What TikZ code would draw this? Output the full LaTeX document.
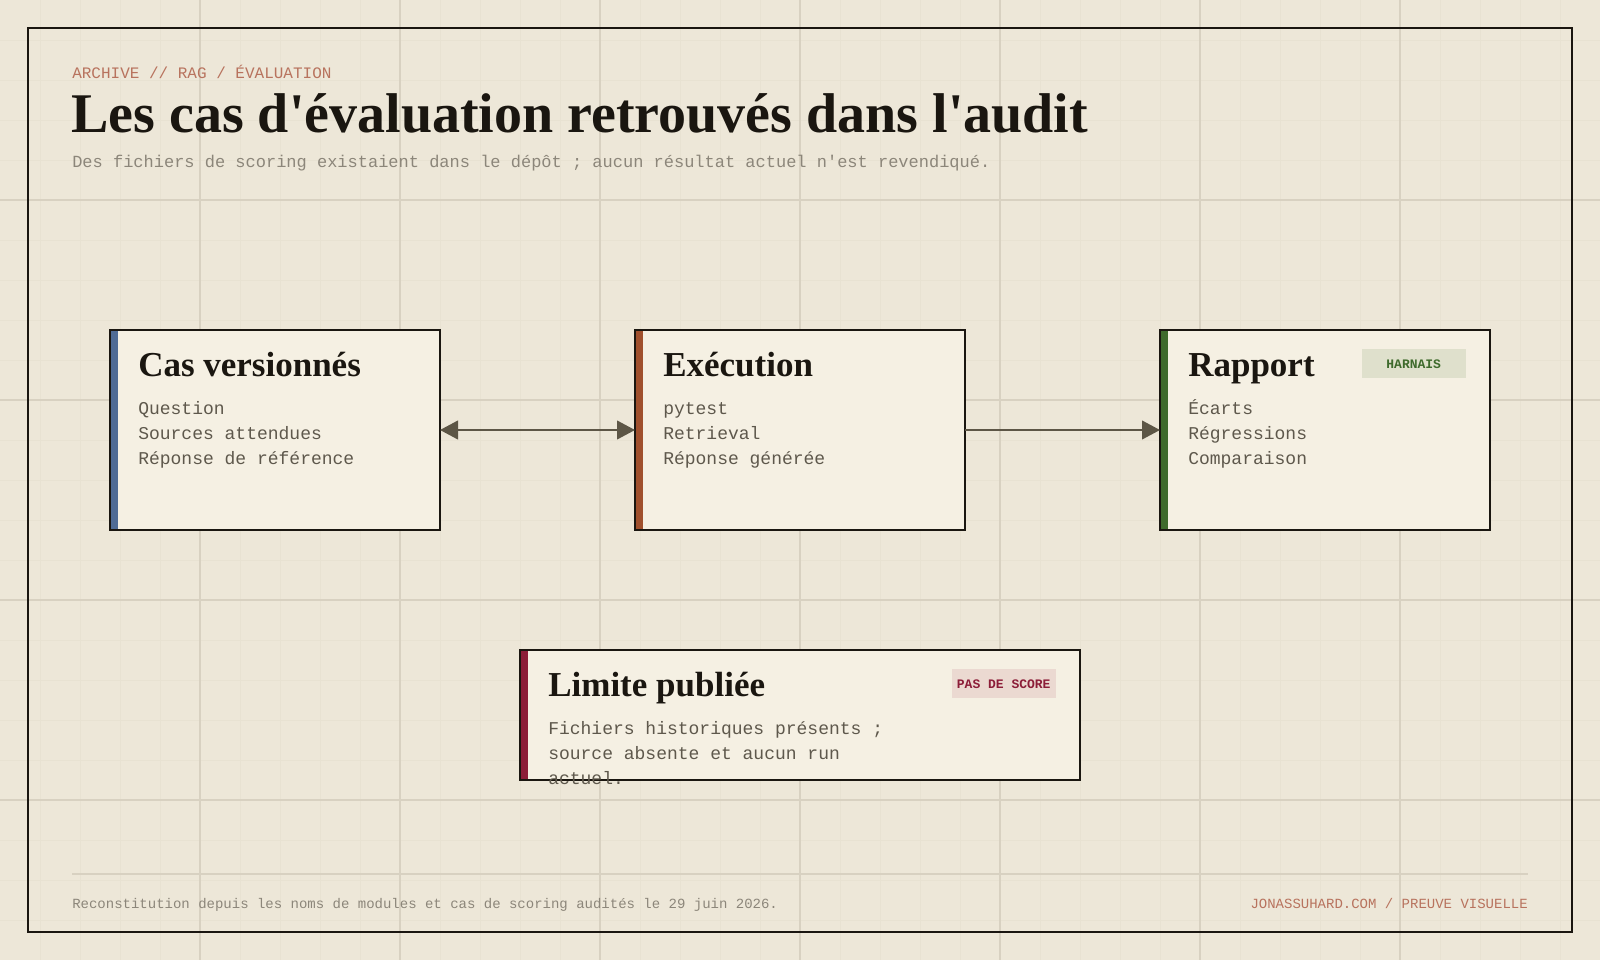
\documentclass[tikz,border=0pt]{standalone}
\usepackage{fontspec}
\setmainfont{Liberation Serif}[Ligatures=TeXOff]
\setmonofont{Liberation Mono}
\usepackage{xcolor}
\usepackage{tikz}
\usetikzlibrary{arrows.meta,positioning}

\definecolor{paper}{HTML}{EDE7D8}
\definecolor{gridmajor}{HTML}{D8D1C1}
\definecolor{gridminor}{HTML}{E8E2D2}
\definecolor{ink}{HTML}{1A1610}
\definecolor{cardbg}{HTML}{F5F0E3}
\definecolor{bodytext}{HTML}{5E584C}
\definecolor{muted}{HTML}{8C867A}
\definecolor{rust}{HTML}{B8735E}
\definecolor{rulec}{HTML}{D8D1C1}
\definecolor{arrowc}{HTML}{5D5646}
\definecolor{accblue}{HTML}{4F6B95}
\definecolor{accrust}{HTML}{A0502D}
\definecolor{accgreen}{HTML}{3E6A2C}
\definecolor{acccrimson}{HTML}{8C1D38}
\definecolor{greenbg}{HTML}{DFE0CC}
\definecolor{crimsonbg}{HTML}{EBD9D1}

\begin{document}
\begin{tikzpicture}[
    x=0.75pt, y=-0.75pt,
    >={Triangle[length=13.5pt, width=14pt]},
    card/.style={draw=ink, fill=cardbg, line width=1.5pt, inner sep=0pt, outer sep=0pt,
        minimum width=247.5pt, minimum height=150pt,
        path picture={\fill[#1] (path picture bounding box.north west) rectangle ([xshift=6pt]path picture bounding box.south west);}},
    cardtitle/.style={anchor=base west, inner sep=0pt, text=ink, font=\fontsize{26.25}{30}\selectfont\bfseries},
    cardbody/.style={anchor=base west, inner sep=0pt, align=left, text=bodytext, font=\ttfamily\fontsize{13.5}{18.75}\selectfont},
    badge/.style={anchor=north east, inner sep=0pt, minimum width=78pt, minimum height=21.75pt, font=\ttfamily\bfseries\fontsize{9.75}{12}\selectfont},
    label/.style={inner sep=0pt, font=\ttfamily\fontsize{10.5}{12}\selectfont},
    arrow/.style={line width=1.5pt, draw=arrowc},
]
    % Paper and grid
    \fill[paper] (0,0) rectangle (1600,960);
    \useasboundingbox (0,0) rectangle (1600,960);
    \foreach \x in {40,80,...,1560} \draw[gridminor, line width=0.75pt] (\x,0) -- (\x,960);
    \foreach \y in {40,80,...,920} \draw[gridminor, line width=0.75pt] (0,\y) -- (1600,\y);
    \foreach \x in {200,400,...,1400} \draw[gridmajor, line width=1.1pt] (\x,0) -- (\x,960);
    \foreach \y in {200,400,...,800} \draw[gridmajor, line width=1.1pt] (0,\y) -- (1600,\y);
    \draw[ink, line width=1.9pt] (28,28) rectangle (1572,932);

    % Header
    \node[anchor=base west, inner sep=0pt, text=rust, font=\ttfamily\fontsize{12}{14}\selectfont] (kicker) at (72,78) {ARCHIVE // RAG / ÉVALUATION};
    \node[anchor=base west, inner sep=0pt, text=ink, font=\bfseries\fontsize{42}{48}\selectfont] (title) at (71,132) {Les cas d'évaluation retrouvés dans l'audit};
    \node[anchor=base west, inner sep=0pt, text=muted, font=\ttfamily\fontsize{12.75}{15}\selectfont] (subtitle) at (72,167) {Des fichiers de scoring existaient dans le dépôt ; aucun résultat actuel n'est revendiqué.};

    % Cards
    \node[card=accblue] (cases) at (275,430) {};
    \node[card=accrust, right=146.25pt of cases] (run) {};
    \node[card=accgreen, right=146.25pt of run] (report) {};
    \node[card=acccrimson, minimum width=420pt, minimum height=97.5pt, below=90pt of run] (limit) {};

    % Card texts (body anchored on its last line)
    \node[cardtitle] (casesT) at ([xshift=21pt, yshift=-34.5pt]cases.north west) {Cas versionnés};
    \node[cardbody] (casesB) at ([xshift=21pt, yshift=-100.5pt]cases.north west) {Question\\Sources attendues\\Réponse de référence};

    \node[cardtitle] (runT) at ([xshift=21pt, yshift=-34.5pt]run.north west) {Exécution};
    \node[cardbody] (runB) at ([xshift=21pt, yshift=-100.5pt]run.north west) {pytest\\Retrieval\\Réponse générée};

    \node[cardtitle] (reportT) at ([xshift=21pt, yshift=-34.5pt]report.north west) {Rapport};
    \node[cardbody] (reportB) at ([xshift=21pt, yshift=-100.5pt]report.north west) {Écarts\\Régressions\\Comparaison};
    \node[badge, fill=greenbg, text=accgreen] (reportTag) at ([xshift=-18pt, yshift=-14.25pt]report.north east) {HARNAIS};

    \node[cardtitle] (limitT) at ([xshift=21pt, yshift=-34.5pt]limit.north west) {Limite publiée};
    \node[cardbody] (limitB) at ([xshift=21pt, yshift=-100.5pt]limit.north west) {Fichiers historiques présents ;\\source absente et aucun run\\actuel.};
    \node[badge, fill=crimsonbg, text=acccrimson] (limitTag) at ([xshift=-18pt, yshift=-14.25pt]limit.north east) {PAS DE SCORE};

    % Arrows
    \draw[arrow, <->] (cases) -- (run);
    \draw[arrow, ->] (run) -- (report);

    % Footer
    \draw[rulec, line width=1.5pt] (72,874) -- (1528,874);
    \node[label, anchor=base west, text=muted] (note) at (72,908) {Reconstitution depuis les noms de modules et cas de scoring audités le 29 juin 2026.};
    \node[label, anchor=base east, text=rust] (credit) at (1528,908) {JONASSUHARD.COM / PREUVE VISUELLE};
\end{tikzpicture}
\end{document}
